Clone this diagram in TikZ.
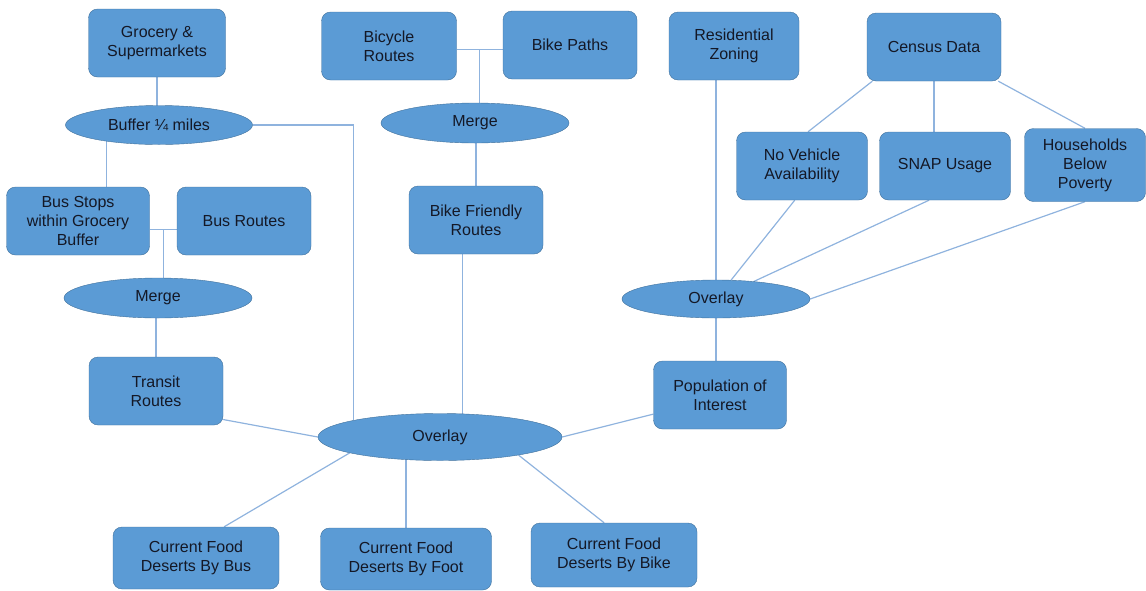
\documentclass[tikz,border=0pt]{standalone}
\usepackage{fontspec}
\setmainfont{Liberation Sans}
\usetikzlibrary{shapes.geometric,calc,backgrounds}
\definecolor{boxfill}{HTML}{5B9BD5}
\definecolor{boxedge}{HTML}{41719C}
\definecolor{linkblue}{HTML}{8FB3DE}
\definecolor{ink}{HTML}{141826}

\begin{document}
\begin{tikzpicture}[x=1pt,y=-1pt,
  box/.style={draw=boxedge,fill=boxfill,rounded corners=9pt,minimum width=134pt,minimum height=68pt,inner sep=2pt,align=center,text=ink,font=\fontsize{16}{19}\selectfont},
  oval/.style={ellipse,draw=boxedge,fill=boxfill,minimum width=188pt,minimum height=39pt,inner sep=1pt,text=ink,font=\fontsize{16}{19}\selectfont},
  link/.style={draw=linkblue,line width=1.2pt}]
\useasboundingbox (0,0) rectangle (1146,590);
\node[box,minimum width=137pt] (groc) at (157,43) {Grocery \&\\Supermarkets};
\node[box,minimum width=135pt] (cycle) at (389,46) {Bicycle\\Routes};
\node[box] (paths) at (570,45) {Bike Paths};
\node[box,minimum width=130pt] (resid) at (734,46) {Residential\\Zoning};
\node[box] (census) at (934,47) {Census Data};
\node[box,minimum width=131pt] (noveh) at (802,166) {No Vehicle\\Availability};
\node[box,minimum width=131pt] (snap) at (945,166) {SNAP Usage};
\node[box,minimum width=121pt,minimum height=73pt] (house) at (1085,165) {Households\\Below\\Poverty};
\node[oval,minimum width=187pt] (buf) at (159,125) {Buffer ¼ miles};
\node[oval,minimum height=40pt] (mrgbike) at (475,123) {Merge};
\node[box,minimum width=143pt] (stops) at (78,221) {Bus Stops\\within Grocery\\Buffer};
\node[box] (busrt) at (244,221) {Bus Routes};
\node[box] (friendly) at (476,220) {Bike Friendly\\Routes};
\node[oval,minimum height=38pt] (ovright) at (716,299) {Overlay};
\node[oval,minimum height=40pt] (mrgbus) at (158,298) {Merge};
\node[box] (transit) at (156,391) {Transit\\Routes};
\node[box,minimum width=133pt] (pop) at (720,395) {Population of\\Interest};
\node[oval,minimum width=244pt,minimum height=47pt] (ovmain) at (440,437) {Overlay};
\node[box,minimum width=166pt,minimum height=62pt] (desbus) at (196,558) {Current Food\\Deserts By Bus};
\node[box,minimum width=171pt,minimum height=62pt] (desfoot) at (406,559) {Current Food\\Deserts By Foot};
\node[box,minimum width=166pt,minimum height=64pt] (desbike) at (614,555) {Current Food\\Deserts By Bike};
% connectors
\begin{scope}[on background layer]
\draw[link] (groc) -- (groc |- buf);
\draw[link] (stops.50) -- (stops.50 |- buf);
\draw[link] (buf) -| (ovmain.north west);
\coordinate (busjoin) at ($(stops.-7)!0.5!(stops.-7 -| busrt.west)$);
\draw[link] (stops.-7) -- (stops.-7 -| busrt.west);
\draw[link] (busjoin) -- (busjoin |- mrgbus);
\draw[link] (transit) -- (transit |- mrgbus);
\coordinate (bikejoin) at ($(cycle.-3)!0.5!(cycle.-3 -| paths.west)$);
\draw[link] (cycle.-3) -- (cycle.-3 -| paths.west);
\draw[link] (bikejoin) -- (bikejoin |- mrgbike);
\draw[link] (friendly) -- (friendly |- mrgbike);
\draw[link] (friendly.249) -- (friendly.249 |- ovmain);
\draw[link] (ovright) -- (ovright |- resid.south);
\draw[link] (census.209) -- (noveh.80);
\draw[link] (census) -- (census |- snap.north);
\draw[link] (census.332) -- (house.north);
\draw[link] (noveh.258) -- (ovright);
\draw[link] (snap.245) -- (ovright);
\draw[link] (house.south) -- (ovright.east);
\draw[link] (ovright) -- (ovright |- pop.north);
\draw[link] (transit.337) -- (ovmain.west);
\draw[link] (pop.196) -- (ovmain.east);
\draw[link] (desbus.48) -- (ovmain.190);
\draw[link] (desfoot) -- (desfoot |- ovmain);
\draw[link] (desbike.107) -- (ovmain.347);
\end{scope}
\end{tikzpicture}
\end{document}
